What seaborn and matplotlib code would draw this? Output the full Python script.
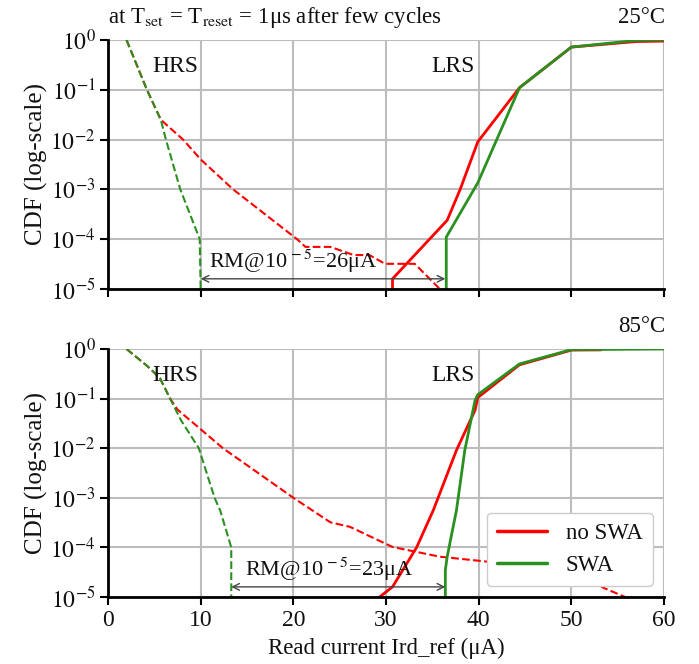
import numpy as np
import pandas as pd
import matplotlib
matplotlib.use("Agg")
import matplotlib.pyplot as plt
import seaborn as sns
from matplotlib.lines import Line2D

# ---------------- data ----------------
# 25 C panel
t_hrs_noswa_x = [2.0, 4.2, 5.7, 8.1, 10.0, 13.5, 20.4, 21.3, 24.0, 26.5, 28.2, 29.9, 33.1, 35.8]
t_hrs_noswa_y = [1.0, 0.1, 0.025, 1e-2, 4e-3, 1e-3, 1e-4, 7e-5, 7e-5, 4.8e-5, 4.8e-5, 3.2e-5, 3.2e-5, 1e-5]
t_hrs_swa_x = [2.0, 4.2, 5.7, 6.25, 7.8, 9.9, 10.0]
t_hrs_swa_y = [1.0, 0.1, 0.025, 1e-2, 1e-3, 1e-4, 1e-5]
t_lrs_noswa_x = [30.7, 30.7, 36.6, 38.0, 39.9, 44.4, 50.0, 57.0, 60.0]
t_lrs_noswa_y = [1e-5, 1.6e-5, 2.4e-4, 1e-3, 9e-3, 0.11, 0.72, 0.93, 0.95]
t_lrs_swa_x = [36.5, 36.5, 39.9, 44.4, 50.0, 57.0, 60.0]
t_lrs_swa_y = [1e-5, 1.1e-4, 1.35e-3, 0.11, 0.72, 0.98, 1.0]

# 85 C panel
b_hrs_noswa_x = [2.0, 4.2, 5.6, 6.7, 7.5, 9.9, 12.4, 20.0, 24.0, 26.1, 30.7, 35.8, 41.2, 47.0, 52.0, 53.4, 55.8]
b_hrs_noswa_y = [1.0, 0.46, 0.26, 0.1, 0.06, 2.5e-2, 1e-2, 1e-3, 3.2e-4, 2.6e-4, 1.02e-4, 6.5e-5, 5.1e-5, 4.5e-5, 2.5e-5, 1.55e-5, 1e-5]
b_hrs_swa_x = [2.0, 4.2, 5.6, 6.7, 7.9, 9.8, 11.5, 12.1, 13.3, 13.3]
b_hrs_swa_y = [1.0, 0.46, 0.26, 0.1, 0.036, 1e-2, 1e-3, 5.6e-4, 1e-4, 1e-5]
b_lrs_noswa_x = [29.3, 30.7, 33.3, 35.1, 37.6, 39.6, 39.9, 44.4, 50.0, 53.2]
b_lrs_noswa_y = [1e-5, 1.6e-5, 1e-4, 5.6e-4, 9.1e-3, 5.8e-2, 0.105, 0.48, 0.95, 0.96]
b_lrs_swa_x = [36.4, 36.4, 36.6, 37.6, 38.5, 39.6, 39.9, 44.4, 50.0, 60.0]
b_lrs_swa_y = [1e-5, 3.5e-5, 6.5e-5, 5.6e-4, 9.1e-3, 9.1e-2, 0.12, 0.5, 0.97, 1.0]

x_ticks = [0, 10, 20, 30, 40, 50, 60]
y_ticks = [1e-5, 1e-4, 1e-3, 1e-2, 1e-1, 1e0]
y_ticklabels = [r"$10^{-5}$", r"$10^{-4}$", r"$10^{-3}$", r"$10^{-2}$", r"$10^{-1}$", r"$10^{0}$"]
legend_labels = ["no SWA", "SWA"]

RED = "#ff0000"
GREEN = "#2a9020"
TXT = "#111111"

sns.set_theme(style="white")
plt.rcParams["font.family"] = ["Liberation Serif", "DejaVu Serif"]
plt.rcParams["mathtext.fontset"] = "stix"

fig = plt.figure(figsize=(6.99, 6.64), dpi=100)
ax1 = fig.add_axes([0.1545, 0.5648, 0.7955, 0.375])
ax2 = fig.add_axes([0.1545, 0.1009, 0.7955, 0.3735])


def draw(ax, x, y, color, dashed):
    df = pd.DataFrame({"x": x, "y": y})
    sns.lineplot(data=df, x="x", y="y", ax=ax, color=color, sort=False,
                 estimator=None, linestyle="--" if dashed else "-",
                 linewidth=1.5 if dashed else 2.0)


panels = [
    (ax1, t_hrs_noswa_x, t_hrs_noswa_y, t_hrs_swa_x, t_hrs_swa_y,
     t_lrs_noswa_x, t_lrs_noswa_y, t_lrs_swa_x, t_lrs_swa_y),
    (ax2, b_hrs_noswa_x, b_hrs_noswa_y, b_hrs_swa_x, b_hrs_swa_y,
     b_lrs_noswa_x, b_lrs_noswa_y, b_lrs_swa_x, b_lrs_swa_y),
]

for ax, hnx, hny, hsx, hsy, lnx, lny, lsx, lsy in panels:
    ax.set_yscale("log")
    draw(ax, hnx, hny, RED, True)
    draw(ax, hsx, hsy, GREEN, True)
    draw(ax, lnx, lny, RED, False)
    draw(ax, lsx, lsy, GREEN, False)
    ax.set_xlim(0, 60)
    ax.set_ylim(1e-5, 1.0)
    ax.set_xticks(x_ticks)
    ax.set_yticks(y_ticks)
    ax.set_yticklabels(y_ticklabels)
    ax.minorticks_off()
    ax.grid(True, color="#bdbdbd", linewidth=1.5)
    ax.set_axisbelow(True)
    for s in ["top", "right"]:
        ax.spines[s].set_visible(False)
    for s in ["left", "bottom"]:
        ax.spines[s].set_color("black")
        ax.spines[s].set_linewidth(2.0)
    ax.tick_params(axis="both", direction="out", length=6, width=1.5,
                   color="black", labelsize=17, labelcolor=TXT,
                   left=True, bottom=True, pad=3)
    ax.set_ylabel("CDF (log-scale)", fontsize=18, color=TXT, labelpad=2)
    ax.text(7.3, 0.29, "HRS", ha="center", va="center", fontsize=17, color=TXT)
    ax.text(37.2, 0.29, "LRS", ha="center", va="center", fontsize=17, color=TXT)

ax1.set_xlabel("")
ax1.set_xticklabels([])
ax2.set_xlabel("Read current Ird_ref (μA)", fontsize=16.5, color=TXT, labelpad=5)

# annotations
ax1.annotate("", xy=(10.0, 1.6e-5), xytext=(36.4, 1.6e-5),
             arrowprops=dict(arrowstyle="<->", color="#444444", lw=1.0,
                             shrinkA=0, shrinkB=0))
ax1.text(10.9, 1.9e-5, r"RM@10$^{\,-5}$=26μA", fontsize=16, color=TXT,
         ha="left", va="bottom")
ax2.annotate("", xy=(13.3, 1.6e-5), xytext=(36.4, 1.6e-5),
             arrowprops=dict(arrowstyle="<->", color="#444444", lw=1.0,
                             shrinkA=0, shrinkB=0))
ax2.text(14.8, 1.9e-5, r"RM@10$^{\,-5}$=23μA", fontsize=16, color=TXT,
         ha="left", va="bottom")

fig.text(0.1545, 0.973, r"at T$_{\rm set}$ = T$_{\rm reset}$ = 1μs after few cycles",
         fontsize=16.5, color=TXT, ha="left", va="center")
fig.text(0.952, 0.973, "25°C", fontsize=16.5, color=TXT, ha="right", va="center")
fig.text(0.952, 0.508, "85°C", fontsize=16.5, color=TXT, ha="right", va="center")

handles = [Line2D([0], [0], color=RED, lw=2.5), Line2D([0], [0], color=GREEN, lw=2.5)]
ax2.legend(handles, legend_labels, loc="lower right", bbox_to_anchor=(0.98, 0.045),
           borderaxespad=0.0,
           fontsize=16.5, frameon=True, framealpha=1.0, edgecolor="#cccccc",
           handlelength=2.2, borderpad=0.45, labelspacing=0.45,
           labelcolor=TXT)

fig.savefig("out.png", dpi=100)
